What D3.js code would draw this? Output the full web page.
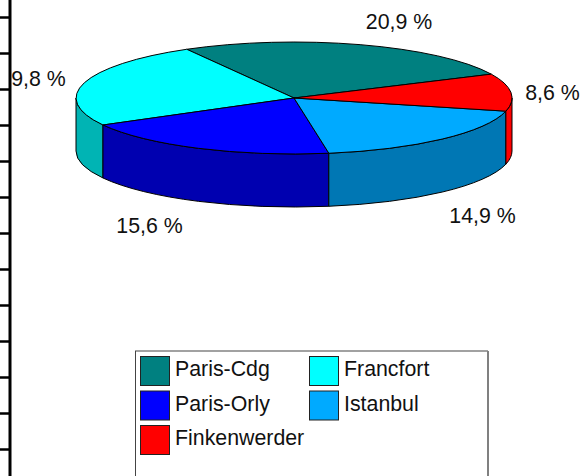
<!DOCTYPE html>
<html>
<head>
<meta charset="utf-8">
<script src="https://cdn.jsdelivr.net/npm/d3@7"></script>
<style>
  html, body { margin: 0; padding: 0; background: #fff; }
  svg { display: block; }
  text { font-family: "Liberation Sans", Arial, sans-serif; font-size: 21.33px; fill: #111; }
</style>
</head>
<body>
<div id="chart"></div>
<script>
// Chart data, legend order (the pie runs counter-clockwise from Paris-Cdg)
const airports = ["Paris-Cdg", "Francfort", "Paris-Orly", "Istanbul", "Finkenwerder"];
const shares = [20.9, 19.8, 15.6, 14.9, 8.6];
const sliceLabels = ["20,9 %", "9,8 %", "15,6 %", "14,9 %", "8,6 %"];
const topColors = ["#008080", "#00ffff", "#0000ff", "#00aaff", "#ff0000"];
const sideColors = ["#005a5a", "#00b4b4", "#0000b0", "#0077b4", "#ff0000"];
const axisTicks = [0, 1, 2, 3, 4, 5, 6, 7, 8, 9, 10, 11, 12];

const width = 581;
const height = 476;

const svg = d3.select("#chart")
  .append("svg")
  .attr("width", width)
  .attr("height", height);

// Left axis, the labels are cut off in the original
const y = d3.scaleLinear().domain([0, 12]).range([17, 449]);
const axis = svg.append("g")
  .attr("transform", "translate(10,0)")
  .call(d3.axisLeft(y).tickValues(axisTicks).tickSize(10).tickFormat(""));
axis.select(".domain").attr("d", `M0,0V${height}`).attr("stroke", "#000").attr("stroke-width", 3);
axis.selectAll(".tick line").attr("stroke", "#000").attr("stroke-width", 2.5);

// Pie geometry
const cx = 294, cy = 98, rx = 218, ry = 56, depth = 53;
const startDeg = 64.8;
const pie = d3.pie().sort(null)
  .startAngle(startDeg * Math.PI / 180)
  .endAngle((startDeg - 360) * Math.PI / 180);
const slices = pie(shares);

// angle is clockwise from the top of the ellipse
const pt = a => [cx + rx * Math.sin(a), cy - ry * Math.cos(a)];

// Side wall of a slice, only the front half of the ellipse shows
function sidePath(lo, hi) {
  const p0 = pt(lo), p1 = pt(hi);
  return `M${p0}A${rx},${ry} 0 0 1 ${p1}L${p1[0]},${p1[1] + depth}` +
    `A${rx},${ry} 0 0 0 ${p0[0]},${p0[1] + depth}Z`;
}

const tau = 2 * Math.PI;
const sides = [];
slices.forEach((s, i) => {
  // slice runs from endAngle up to startAngle, push into 0..2pi
  let lo = s.endAngle, hi = s.startAngle;
  while (lo < 0) { lo += tau; hi += tau; }
  const a = Math.max(lo, Math.PI / 2), b = Math.min(hi, 3 * Math.PI / 2);
  if (b > a) sides.push({ i, lo: a, hi: b });
});

svg.append("g").selectAll("path")
  .data(sides)
  .enter().append("path")
  .attr("d", d => sidePath(d.lo, d.hi))
  .attr("fill", d => sideColors[d.i])
  .attr("stroke", "#000")
  .attr("stroke-width", 1);

// Top face, unit arcs squashed into the ellipse
const arc = d3.arc().innerRadius(0).outerRadius(1);
svg.append("g")
  .attr("transform", `translate(${cx},${cy}) scale(${rx},${ry})`)
  .selectAll("path")
  .data(slices)
  .enter().append("path")
  .attr("d", arc)
  .attr("fill", (d, i) => topColors[i])
  .attr("stroke", "#000")
  .attr("stroke-width", 1)
  .attr("vector-effect", "non-scaling-stroke");

// Slice labels, placed by hand like the chart's own
const labelPos = [[399, 29], [38.5, 86], [149.5, 233], [482.5, 223], [552.5, 100]];
svg.append("g").selectAll("text")
  .data(sliceLabels)
  .enter().append("text")
  .attr("x", (d, i) => labelPos[i][0])
  .attr("y", (d, i) => labelPos[i][1])
  .attr("text-anchor", "middle")
  .text(d => d);

// Legend
const legendCols = [140, 309];
const legendRows = [356, 390.5, 425];
const legend = svg.append("g");
legend.append("rect")
  .attr("x", 135.5).attr("y", 351)
  .attr("width", 352).attr("height", 140)
  .attr("fill", "#fff").attr("stroke", "#444").attr("stroke-width", 1);
// the right edge of the box is a heavier grey
legend.append("line")
  .attr("x1", 488).attr("x2", 488)
  .attr("y1", 351).attr("y2", height)
  .attr("stroke", "#808080").attr("stroke-width", 2);

const items = legend.selectAll("g")
  .data(airports)
  .enter().append("g")
  .attr("transform", (d, i) => `translate(${legendCols[i % 2]},${legendRows[Math.floor(i / 2)]})`);
items.append("rect")
  .attr("x", 0.5).attr("y", 0.5)
  .attr("width", 29).attr("height", 29)
  .attr("fill", (d, i) => topColors[i])
  .attr("stroke", "#222")
  .attr("stroke-width", 1);
items.append("text")
  .attr("x", 35)
  .attr("y", 20)
  .text(d => d);
</script>
</body>
</html>
